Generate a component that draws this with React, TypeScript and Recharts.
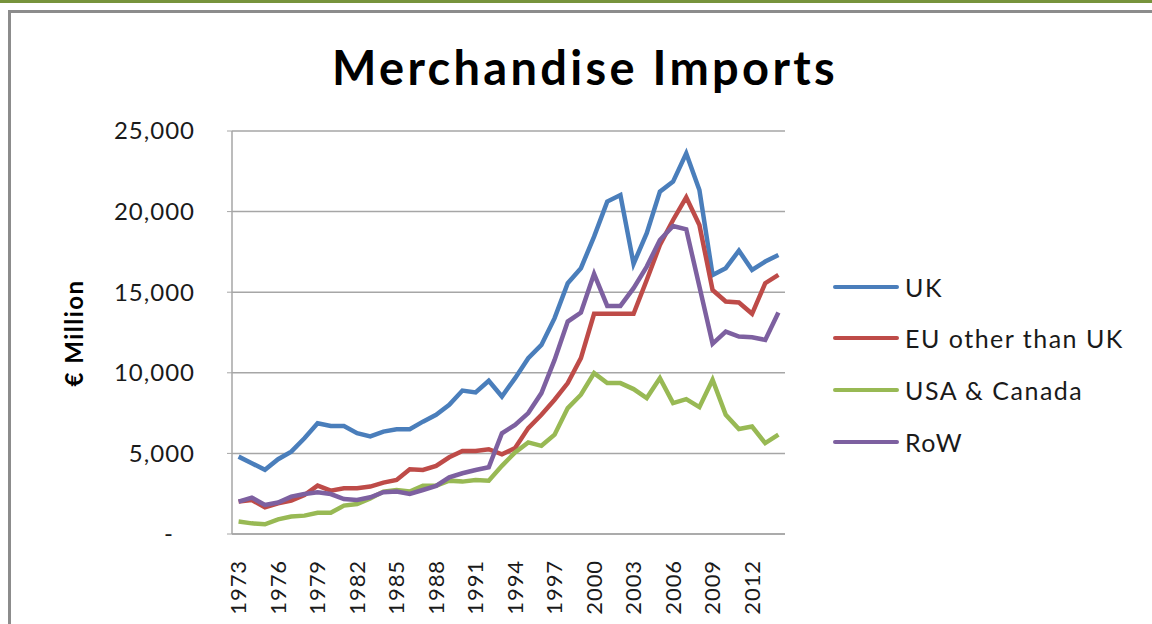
import React from 'react';
import { LineChart, Line, XAxis, YAxis, CartesianGrid } from 'recharts';

const years = [
  1973, 1974, 1975, 1976, 1977, 1978, 1979, 1980, 1981, 1982, 1983, 1984, 1985, 1986,
  1987, 1988, 1989, 1990, 1991, 1992, 1993, 1994, 1995, 1996, 1997, 1998, 1999, 2000,
  2001, 2002, 2003, 2004, 2005, 2006, 2007, 2008, 2009, 2010, 2011, 2012, 2013, 2014,
];

const uk = [
  4800, 4390, 3980, 4640, 5110, 5940, 6870, 6700, 6700, 6250, 6050, 6350, 6500, 6500,
  6970, 7390, 8010, 8900, 8780, 9510, 8530, 9670, 10900, 11730, 13390, 15560, 16490, 18450,
  20620, 21030, 16760, 18660, 21240, 21860, 23610, 21340, 16070, 16490, 17580, 16380, 16900, 17310,
];

const euOther = [
  2010, 2110, 1660, 1900, 2070, 2420, 3000, 2690, 2840, 2840, 2940, 3190, 3350, 4020,
  3970, 4220, 4760, 5150, 5150, 5260, 4940, 5330, 6570, 7400, 8330, 9360, 10910, 13660,
  13660, 13660, 13660, 15760, 17930, 19480, 20890, 19170, 15140, 14420, 14360, 13660, 15560, 16070,
];

const usaCanada = [
  770, 660, 600, 910, 1080, 1140, 1320, 1320, 1760, 1860, 2210, 2630, 2730, 2630,
  3000, 3000, 3310, 3250, 3350, 3300, 4230, 5060, 5680, 5470, 6160, 7810, 8640, 9980,
  9360, 9360, 8990, 8430, 9670, 8120, 8370, 7870, 9570, 7400, 6510, 6670, 5640, 6160,
];

const row = [
  2010, 2260, 1800, 1950, 2320, 2480, 2590, 2480, 2170, 2110, 2280, 2590, 2630, 2480,
  2730, 2980, 3520, 3770, 3970, 4140, 6250, 6770, 7500, 8740, 10800, 13180, 13740, 16140,
  14150, 14150, 15250, 16590, 18240, 19110, 18900, 15350, 11800, 12560, 12250, 12210, 12040, 13740,
];

const yTicks = [0, 5000, 10000, 15000, 20000, 25000];

const seriesList = [
  { key: 'uk', name: 'UK', color: '#4a7ebb' },
  { key: 'eu', name: 'EU other than UK', color: '#be4b48' },
  { key: 'usa', name: 'USA & Canada', color: '#98b954' },
  { key: 'row', name: 'RoW', color: '#7d60a0' },
];

const data = years.map((y, i) => ({
  year: String(y),
  uk: uk[i],
  eu: euOther[i],
  usa: usaCanada[i],
  row: row[i],
}));

const FONT = 'Lato, "Open Sans", sans-serif';
const GRID = '#a6a6a6';

const YearTick = (props: any) => {
  const { x, y, payload } = props;
  return (
    <text
      x={0}
      y={0}
      transform={`translate(${x},${y + 18}) rotate(-90)`}
      textAnchor="end"
      dy="0.35em"
      fontSize={22}
      letterSpacing={0.9}
      fontFamily={FONT}
      fill="#1a1a1a"
    >
      {payload.value}
    </text>
  );
};

const ValueTick = (props: any) => {
  const { x, y, payload } = props;
  const label = payload.value === 0 ? '-' : payload.value.toLocaleString('en-US');
  return (
    <text
      x={payload.value === 0 ? x - 21 : x}
      y={y}
      textAnchor="end"
      dy="0.35em"
      fontSize={24}
      letterSpacing={1}
      fontFamily={FONT}
      fill="#1a1a1a"
    >
      {label}
    </text>
  );
};

export default function App() {
  return (
    <div style={{ position: 'absolute', left: 0, top: 0, width: 1152, height: 624, background: '#fff', overflow: 'hidden' }}>
      <div style={{ position: 'absolute', left: 0, top: 0, width: 1152, height: 3, background: '#77933c' }} />
      <div
        style={{
          position: 'absolute',
          left: 8,
          top: 10,
          width: 1200,
          height: 700,
          borderLeft: '3px solid #8c8c8c',
          borderTop: '3px solid #8c8c8c',
        }}
      />
      <div
        style={{
          position: 'absolute',
          left: 0,
          width: 1170,
          top: 37,
          textAlign: 'center',
          fontFamily: FONT,
          fontWeight: 700,
          fontSize: 47,
          letterSpacing: 3.3,
          color: '#000',
          lineHeight: '60px',
        }}
      >
        Merchandise Imports
      </div>
      <div
        style={{
          position: 'absolute',
          left: 73,
          top: 333,
          transform: 'translate(-50%, -50%) rotate(-90deg)',
          fontFamily: FONT,
          fontWeight: 700,
          fontSize: 24,
          letterSpacing: 1.5,
          whiteSpace: 'nowrap',
          color: '#000',
        }}
      >
        € Million
      </div>
      <div style={{ position: 'absolute', left: 0, top: 0 }}>
        <LineChart width={1152} height={624} data={data} margin={{ top: 131, right: 367, bottom: 0, left: 0 }}>
          <CartesianGrid vertical={false} stroke={GRID} strokeWidth={1.5} />
          <XAxis
            dataKey="year"
            interval={2}
            tick={<YearTick />}
            tickLine={false}
            axisLine={{ stroke: GRID, strokeWidth: 1.5 }}
            height={90}
            padding={{ left: 6.6, right: 6.6 }}
          />
          <YAxis
            width={232}
            domain={[0, 25000]}
            ticks={yTicks}
            tick={<ValueTick />}
            tickSize={5}
            tickMargin={32}
            tickLine={{ stroke: GRID }}
            axisLine={{ stroke: GRID, strokeWidth: 1.5 }}
          />
          {seriesList.map((s) => (
            <Line
              key={s.key}
              type="linear"
              dataKey={s.key}
              name={s.name}
              stroke={s.color}
              strokeWidth={4.5}
              dot={false}
              isAnimationActive={false}
            />
          ))}
        </LineChart>
      </div>
      <div
        style={{
          position: 'absolute',
          left: 833,
          top: 261,
          fontFamily: FONT,
          fontSize: 25,
          letterSpacing: 1.5,
          color: '#1a1a1a',
        }}
      >
        {seriesList.map((s) => (
          <div key={s.key} style={{ display: 'flex', alignItems: 'center', height: 51.6 }}>
            <div style={{ width: 66, height: 4, background: s.color, borderRadius: 2, marginRight: 6 }} />
            <span style={{ whiteSpace: 'nowrap' }}>{s.name}</span>
          </div>
        ))}
      </div>
    </div>
  );
}
